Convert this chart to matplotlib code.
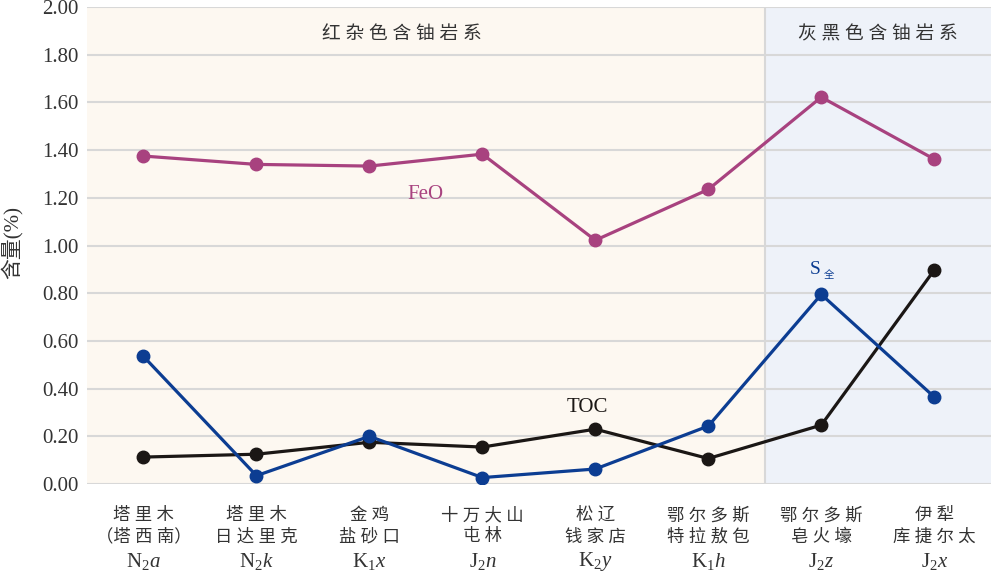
import matplotlib
matplotlib.use("Agg")
import matplotlib.pyplot as plt

plt.rcParams['font.family'] = ['Liberation Serif', 'Noto Sans CJK SC']
plt.rcParams['mathtext.fontset'] = 'custom'
plt.rcParams['mathtext.rm'] = 'Liberation Serif'
plt.rcParams['mathtext.it'] = 'Liberation Serif:italic'

# 数据
places = [("塔里木", "（塔西南）"), ("塔里木", "日达里克"), ("金鸡", "盐砂口"),
          ("十万大山", "屯林"), ("松辽", "钱家店"), ("鄂尔多斯", "特拉敖包"),
          ("鄂尔多斯", "皂火壕"), ("伊犁", "库捷尔太")]
codes = [r"N$_2$$\it{a}$", r"N$_2$$\it{k}$", r"K$_1$$\it{x}$", r"J$_2$$\it{n}$",
         r"K$_2$$\it{y}$", r"K$_1$$\it{h}$", r"J$_2$$\it{z}$", r"J$_2$$\it{x}$"]
feo = [1.375, 1.34, 1.333, 1.383, 1.022, 1.235, 1.622, 1.362]
s_total = [0.535, 0.035, 0.20, 0.027, 0.063, 0.243, 0.795, 0.365]
toc = [0.113, 0.125, 0.175, 0.155, 0.23, 0.107, 0.247, 0.897]
yticks = [0.0, 0.2, 0.4, 0.6, 0.8, 1.0, 1.2, 1.4, 1.6, 1.8, 2.0]

c_feo = '#a8427f'
c_s = '#0c3d92'
c_toc = '#1b1715'
c_txt = '#333333'


def spaced(s):
    # 字间距
    if s.startswith("（"):
        return "（" + " ".join(s[1:-1]) + "）"
    return " ".join(s)


fig = plt.figure(figsize=(9.92, 5.72), dpi=100)
ax = fig.add_axes([0.0877, 0.1538, 0.911, 0.834])

x = list(range(len(places)))
ax.axvspan(-0.5, 5.5, color='#fdf8f1', zorder=0)
ax.axvspan(5.5, 7.5, color='#eef2f9', zorder=0)
ax.axvline(5.5, color='#d8d8d8', lw=1.5, zorder=1)

for v in yticks:
    ax.axhline(v, color='#d8d8d8', lw=1.5, zorder=1)

ax.plot(x, feo, '-o', color=c_feo, lw=2.3, ms=9, zorder=3)
ax.plot(x, s_total, '-o', color=c_s, lw=2.3, ms=9, zorder=4)
ax.plot(x, toc, '-o', color=c_toc, lw=2.3, ms=9, zorder=3)

ax.text(2.5, 1.213, "FeO", color=c_feo, fontsize=15, ha='center', va='center')
ax.text(5.95, 0.9, "S", color=c_s, fontsize=14, ha='center', va='center')
ax.text(6.07, 0.875, "全", color=c_s, fontsize=7.5, ha='center', va='center')
ax.text(3.93, 0.322, "TOC", color=c_toc, fontsize=15, ha='center', va='center')

ax.text(2.29, 1.885, spaced("红杂色含铀岩系"), fontsize=13.5, ha='center', va='center',
        color=c_txt)
ax.text(6.5, 1.885, spaced("灰黑色含铀岩系"), fontsize=13.5, ha='center', va='center',
        color=c_txt)

ax.set_xlim(-0.5, 7.5)
ax.set_ylim(0, 2.0)
ax.set_yticks(yticks)
ax.set_yticklabels([f"{v:.2f}" for v in yticks], fontsize=15, color=c_txt)
ax.set_xticks(x)
ax.set_xticklabels([])
ax.tick_params(length=0)
ax.tick_params(axis='y', pad=6)

xt = ax.get_xaxis_transform()
for i, (l1, l2) in enumerate(places):
    ax.text(i, -0.067, spaced(l1), transform=xt, fontsize=12.5, ha='center',
            va='center', color=c_txt)
    ax.text(i, -0.112, spaced(l2), transform=xt, fontsize=12.5, ha='center',
            va='center', color=c_txt)
    ax.text(i, -0.162, codes[i], transform=xt, fontsize=15, ha='center',
            va='center', color=c_txt)

ax.set_ylabel("含量(%)", fontsize=15, color=c_txt, va='center')
ax.yaxis.set_label_coords(-0.083, 0.507)
for sp in ax.spines.values():
    sp.set_visible(False)

fig.savefig("out.png", dpi=100)
